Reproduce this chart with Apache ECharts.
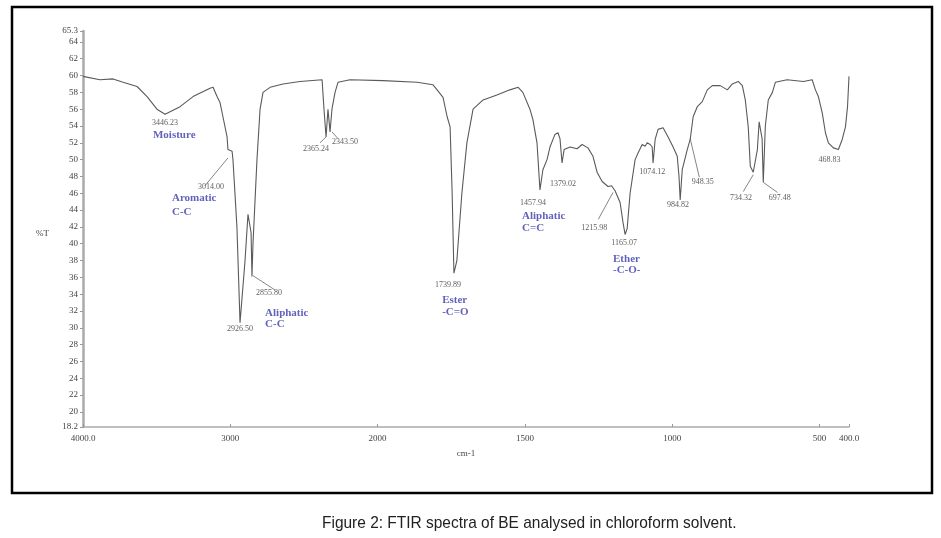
<!DOCTYPE html>
<html>
<head>
<meta charset="utf-8">
<title>FTIR spectra of BE</title>
<script src="https://cdn.jsdelivr.net/npm/echarts@6/dist/echarts.min.js"></script>
<style>
  html, body { margin: 0; padding: 0; background: #fff; }
  #ftir { width: 941px; height: 538px; }
</style>
</head>
<body>
<div id="ftir"></div>
<script>
// wavenumbers (cm-1) and transmittance (%T)
const wavenumbers = [4000, 3885, 3796, 3728, 3633, 3565, 3498, 3443, 3341, 3253, 3138, 3117, 3090, 3070, 3050, 3022, 3016, 2988, 2982, 2955,
  2934, 2900, 2880, 2859, 2853, 2846, 2819, 2798, 2778, 2730, 2642, 2527, 2377, 2364, 2350, 2337, 2323, 2310, 2289, 2269,
  2187, 1982, 1866, 1812, 1798, 1778, 1764, 1754, 1747, 1741, 1731, 1714, 1697, 1676, 1642, 1595, 1551, 1523, 1507, 1483,
  1473, 1459, 1449, 1439, 1425, 1415, 1398, 1388, 1381, 1374, 1367, 1347, 1323, 1306, 1286, 1269, 1255, 1238, 1218, 1206,
  1194, 1177, 1167, 1160, 1153, 1143, 1126, 1116, 1102, 1092, 1085, 1075, 1068, 1065, 1058, 1048, 1031, 1014, 997, 983,
  977, 973, 966, 949, 939, 929, 915, 898, 881, 864, 837, 813, 796, 776, 762, 752, 742, 735, 725, 711,
  705, 695, 691, 684, 674, 660, 650, 610, 555, 525, 514, 504, 491, 480, 470, 453, 436, 423, 412, 405, 400];
const transmittance = [59.9, 59.5, 59.6, 59.2, 58.7, 57.5, 56.0, 55.4, 56.3, 57.5, 58.5, 58.6, 57.5, 56.8, 55.1, 52.7, 51.2, 51.0, 50.0, 42.0,
  30.6, 38.0, 43.5, 41.3, 36.1, 40.0, 50.0, 56.0, 58.0, 58.6, 59.0, 59.3, 59.5, 56.0, 52.7, 56.0, 53.3, 56.0, 58.0, 59.2,
  59.5, 59.4, 59.2, 58.9, 58.3, 57.4, 55.1, 53.9, 46.0, 36.5, 38.0, 46.0, 52.0, 56.0, 57.1, 57.7, 58.3, 58.6, 58.0, 56.0,
  54.8, 52.0, 46.4, 48.8, 50.0, 51.5, 53.0, 53.2, 52.5, 49.6, 51.2, 51.5, 51.3, 51.8, 51.4, 50.4, 48.5, 47.4, 46.8, 46.9,
  46.3, 44.9, 42.5, 41.1, 41.8, 46.0, 50.0, 50.8, 51.8, 51.6, 52.0, 51.8, 51.5, 49.6, 52.4, 53.6, 53.8, 52.7, 51.5, 50.4,
  48.0, 45.2, 48.8, 51.2, 52.4, 55.1, 56.3, 56.9, 58.3, 58.8, 58.8, 58.3, 59.0, 59.3, 58.8, 57.1, 53.9, 49.2, 48.5, 51.2,
  54.5, 52.5, 47.3, 54.0, 57.1, 58.0, 59.2, 59.5, 59.3, 59.5, 58.3, 57.5, 55.6, 53.2, 52.0, 51.4, 51.2, 52.4, 53.9, 56.3, 59.9];

// peak labels: text, wavenumber, %T of where the label sits
const peakTexts = ['3446.23', '3014.00', '2926.50', '2855.80', '2365.24', '2343.50', '1739.89', '1457.94', '1379.02',
  '1215.98', '1165.07', '1074.12', '984.82', '948.35', '734.32', '697.48', '468.83'];
const peakLabelWn = [3443, 3131, 2934, 2737, 2418, 2221, 1761, 1473, 1371, 1265, 1163, 1068, 980, 896, 767, 635, 466];
const peakLabelT = [54.4, 46.8, 29.9, 34.2, 51.3, 52.1, 35.1, 44.8, 47.1, 41.9, 40.1, 48.6, 44.6, 47.4, 45.5, 45.5, 50.0];

// band assignments (blue text), left edge
const groupTexts = ['Moisture', 'Aromatic', 'C-C', 'Aliphatic', 'C-C', 'Ester', '-C=O', 'Aliphatic', 'C=C', 'Ether', '-C-O-'];
const groupWn = [3525, 3396, 3396, 2764, 2764, 1781, 1781, 1510, 1510, 1201, 1201];
const groupT = [52.9, 45.4, 43.8, 31.7, 30.4, 33.3, 31.9, 43.3, 41.9, 38.2, 36.8];

// leader lines from label to peak: [wn1, T1, wn2, T2]
const leaders = [
  [3172, 46.9, 3016, 50.2],
  [2846, 36.2, 2697, 34.5],
  [2391, 52.0, 2350, 52.7],
  [2310, 53.3, 2269, 52.5],
  [1251, 42.9, 1201, 46.1],
  [939, 52.5, 908, 47.9],
  [725, 48.2, 759, 46.2],
  [691, 47.3, 643, 46.1]
];

const xTicks = [4000, 3000, 2000, 1500, 1000, 500, 400];
const yTicks = [18.2, 20, 22, 24, 26, 28, 30, 32, 34, 36, 38, 40, 42, 44, 46, 48, 50, 52, 54, 56, 58, 60, 62, 64, 65.3];

// the spectrometer plot changes scale at 2000 cm-1 (twice as wide below)
function toU(wn) {
  return wn >= 2000 ? 4000 - wn : 2000 + (2000 - wn) * 2;
}
function fromU(u) {
  return u <= 2000 ? 4000 - u : 2000 - (u - 2000) / 2;
}

let myChart = echarts.init(document.getElementById('ftir'));
const serif = 'Liberation Serif';

myChart.setOption({
  animation: false,
  backgroundColor: '#fff',
  graphic: [
    {
      type: 'rect',
      shape: { x: 12, y: 7, width: 920, height: 486 },
      style: { fill: 'none', stroke: '#000', lineWidth: 2.5 }
    },
    {
      // caption, squeezed a little to look like the condensed face of the print
      type: 'text',
      x: 322,
      y: 523,
      scaleX: 0.91,
      style: {
        text: 'Figure 2: FTIR spectra of BE analysed in chloroform solvent.',
        font: '17px "Liberation Sans"',
        fill: '#222',
        verticalAlign: 'middle'
      }
    }
  ],
  grid: { left: 83, right: 92, top: 31, bottom: 111 },
  xAxis: {
    type: 'value',
    min: 0,
    max: 5200,
    name: 'cm-1',
    nameLocation: 'middle',
    nameGap: 22,
    nameTextStyle: { fontFamily: serif, fontSize: 9, color: '#444' },
    axisLine: { lineStyle: { color: '#aaa', width: 1.5 } },
    axisTick: { inside: true, length: 3, customValues: xTicks.map(toU), lineStyle: { color: '#999' } },
    axisLabel: {
      customValues: xTicks.map(toU),
      margin: 7,
      fontFamily: serif,
      fontSize: 9,
      color: '#444',
      formatter: function (u) {
        const wn = Math.round(fromU(u));
        return (wn === 4000 || wn === 400) ? wn.toFixed(1) : String(wn);
      }
    },
    splitLine: { show: false }
  },
  yAxis: {
    type: 'value',
    min: 18.2,
    max: 65.3,
    name: '%T',
    nameLocation: 'middle',
    nameRotate: 0,
    nameGap: 34,
    nameTextStyle: { fontFamily: serif, fontSize: 9, color: '#444', verticalAlign: 'top' },
    axisLine: { show: true, lineStyle: { color: '#aaa', width: 2.5 } },
    axisTick: { show: true, length: 3, customValues: yTicks, lineStyle: { color: '#999' } },
    axisLabel: {
      customValues: yTicks,
      margin: 5,
      fontFamily: serif,
      fontSize: 9,
      color: '#444',
      formatter: function (v) {
        return Number.isInteger(v) ? String(v) : v.toFixed(1);
      }
    },
    splitLine: { show: false }
  },
  series: [
    {
      name: 'FTIR',
      type: 'line',
      data: wavenumbers.map((wn, i) => [toU(wn), transmittance[i]]),
      showSymbol: false,
      lineStyle: { color: '#5a5a5a', width: 1.1 },
      z: 3
    },
    {
      name: 'leaders',
      type: 'lines',
      coordinateSystem: 'cartesian2d',
      data: leaders.map(l => ({ coords: [[toU(l[0]), l[1]], [toU(l[2]), l[3]]] })),
      lineStyle: { color: '#666', width: 0.8, opacity: 1 },
      z: 2
    },
    {
      name: 'peaks',
      type: 'scatter',
      symbolSize: 0,
      data: peakTexts.map((t, i) => [toU(peakLabelWn[i]), peakLabelT[i], t]),
      label: {
        show: true,
        position: 'inside',
        formatter: p => p.value[2],
        fontFamily: serif,
        fontSize: 8,
        color: '#333'
      },
      z: 4
    },
    {
      name: 'groups',
      type: 'scatter',
      symbolSize: 0,
      data: groupTexts.map((t, i) => [toU(groupWn[i]), groupT[i], t]),
      label: {
        show: true,
        position: 'inside',
        align: 'left',
        formatter: p => p.value[2],
        fontFamily: serif,
        fontSize: 11,
        fontWeight: 'bold',
        color: '#3a3aaa'
      },
      z: 4
    }
  ]
});
</script>
</body>
</html>
